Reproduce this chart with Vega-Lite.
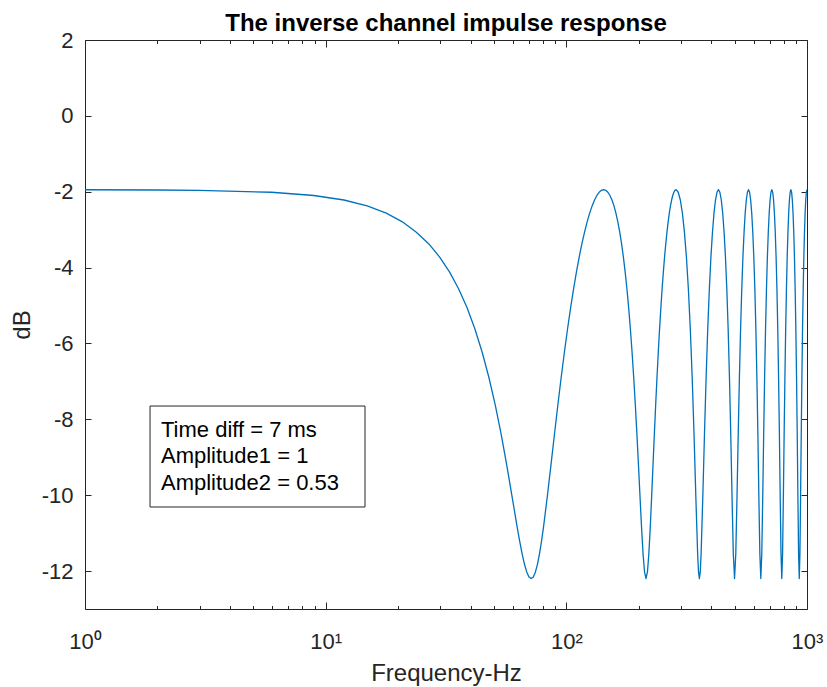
{
  "$schema": "https://vega.github.io/schema/vega-lite/v6.json",
  "width": 722,
  "height": 569,
  "autosize": {"type": "none"},
  "padding": {"left": 85, "top": 40, "right": 20, "bottom": 78},
  "background": "white",
  "config": {
    "view": {"stroke": null},
    "font": "Liberation Sans",
    "axis": {
      "grid": false,
      "domainColor": "#262626",
      "domainWidth": 1,
      "tickColor": "#262626",
      "tickWidth": 1,
      "labelColor": "#262626",
      "labelFont": "Liberation Sans",
      "labelFontSize": 22,
      "titleFont": "Liberation Sans",
      "titleFontSize": 24,
      "titleFontWeight": "normal",
      "titleColor": "#262626",
      "labelOverlap": false,
      "labelFlush": false
    }
  },
  "title": {
    "text": "The inverse channel impulse response",
    "font": "Liberation Sans",
    "fontSize": 24,
    "fontWeight": "bold",
    "color": "#000000",
    "anchor": "middle",
    "baseline": "alphabetic",
    "offset": -26
  },
  "data": {
    "values": [
      {"f": 1, "db": -1.948}, {"f": 2, "db": -1.954}, {"f": 2.976, "db": -1.963}, {"f": 5.952, "db": -2.014},
      {"f": 8.929, "db": -2.099}, {"f": 11.905, "db": -2.218}, {"f": 14.881, "db": -2.373}, {"f": 17.857, "db": -2.564},
      {"f": 20.833, "db": -2.793}, {"f": 23.81, "db": -3.066}, {"f": 26.786, "db": -3.37}, {"f": 29.762, "db": -3.722},
      {"f": 32.738, "db": -4.119}, {"f": 35.714, "db": -4.565}, {"f": 38.69, "db": -5.061}, {"f": 41.667, "db": -5.612},
      {"f": 44.643, "db": -6.219}, {"f": 47.619, "db": -6.884}, {"f": 50.595, "db": -7.608}, {"f": 53.571, "db": -8.386},
      {"f": 56.548, "db": -9.206}, {"f": 59.524, "db": -10.042}, {"f": 62.5, "db": -10.846}, {"f": 63.988, "db": -11.213},
      {"f": 65.476, "db": -11.54}, {"f": 66.964, "db": -11.815}, {"f": 68.452, "db": -12.023}, {"f": 69.94, "db": -12.154},
      {"f": 71.429, "db": -12.198}, {"f": 72.917, "db": -12.154}, {"f": 74.405, "db": -12.023}, {"f": 75.893, "db": -11.815},
      {"f": 77.381, "db": -11.54}, {"f": 78.869, "db": -11.213}, {"f": 80.357, "db": -10.846}, {"f": 83.333, "db": -10.042},
      {"f": 86.31, "db": -9.206}, {"f": 89.286, "db": -8.386},
      {"f": 92.262, "db": -7.608}, {"f": 95.238, "db": -6.884}, {"f": 98.214, "db": -6.219}, {"f": 101.19, "db": -5.612},
      {"f": 104.167, "db": -5.061}, {"f": 107.143, "db": -4.565}, {"f": 110.119, "db": -4.119}, {"f": 113.095, "db": -3.722},
      {"f": 116.071, "db": -3.37}, {"f": 119.048, "db": -3.066}, {"f": 122.024, "db": -2.793}, {"f": 125, "db": -2.564},
      {"f": 127.976, "db": -2.373}, {"f": 130.952, "db": -2.218}, {"f": 133.929, "db": -2.099}, {"f": 136.905, "db": -2.014},
      {"f": 139.881, "db": -1.963}, {"f": 142.857, "db": -1.946},
      {"f": 145.833, "db": -1.963}, {"f": 148.81, "db": -2.014}, {"f": 151.786, "db": -2.099}, {"f": 154.762, "db": -2.218},
      {"f": 157.738, "db": -2.373}, {"f": 160.714, "db": -2.564}, {"f": 163.69, "db": -2.793}, {"f": 166.667, "db": -3.066},
      {"f": 169.643, "db": -3.37}, {"f": 172.619, "db": -3.722}, {"f": 175.595, "db": -4.119}, {"f": 178.571, "db": -4.565},
      {"f": 181.548, "db": -5.061}, {"f": 184.524, "db": -5.612}, {"f": 187.5, "db": -6.219}, {"f": 190.476, "db": -6.884},
      {"f": 193.452, "db": -7.608}, {"f": 196.429, "db": -8.386}, {"f": 199.405, "db": -9.206}, {"f": 202.381, "db": -10.042},
      {"f": 205.357, "db": -10.846}, {"f": 208.333, "db": -11.54}, {"f": 211.31, "db": -12.023}, {"f": 214.286, "db": -12.198},
      {"f": 217.262, "db": -12.023}, {"f": 220.238, "db": -11.54}, {"f": 223.214, "db": -10.846}, {"f": 226.19, "db": -10.042},
      {"f": 229.167, "db": -9.206}, {"f": 232.143, "db": -8.386}, {"f": 235.119, "db": -7.608}, {"f": 238.095, "db": -6.884},
      {"f": 241.071, "db": -6.219}, {"f": 244.048, "db": -5.612}, {"f": 247.024, "db": -5.061}, {"f": 250, "db": -4.565},
      {"f": 252.976, "db": -4.119}, {"f": 255.952, "db": -3.722}, {"f": 258.929, "db": -3.37}, {"f": 261.905, "db": -3.066},
      {"f": 264.881, "db": -2.793}, {"f": 267.857, "db": -2.564}, {"f": 270.833, "db": -2.373}, {"f": 273.81, "db": -2.218},
      {"f": 276.786, "db": -2.099}, {"f": 279.762, "db": -2.014}, {"f": 282.738, "db": -1.963}, {"f": 285.714, "db": -1.946},
      {"f": 291.667, "db": -2.014}, {"f": 297.619, "db": -2.218}, {"f": 303.571, "db": -2.564}, {"f": 309.524, "db": -3.066},
      {"f": 315.476, "db": -3.722}, {"f": 321.429, "db": -4.565}, {"f": 327.381, "db": -5.612}, {"f": 333.333, "db": -6.884},
      {"f": 339.286, "db": -8.386}, {"f": 345.238, "db": -10.042}, {"f": 351.19, "db": -11.54}, {"f": 354.166, "db": -12.023},
      {"f": 357.143, "db": -12.198}, {"f": 360.119, "db": -12.023}, {"f": 363.095, "db": -11.54}, {"f": 369.048, "db": -10.042},
      {"f": 375, "db": -8.386}, {"f": 380.952, "db": -6.884}, {"f": 386.905, "db": -5.612}, {"f": 392.857, "db": -4.565},
      {"f": 398.81, "db": -3.722}, {"f": 404.762, "db": -3.066}, {"f": 410.714, "db": -2.564}, {"f": 416.667, "db": -2.218},
      {"f": 422.619, "db": -2.014}, {"f": 428.571, "db": -1.946},
      {"f": 434.524, "db": -2.014}, {"f": 440.476, "db": -2.218}, {"f": 446.429, "db": -2.564}, {"f": 452.381, "db": -3.066},
      {"f": 458.333, "db": -3.722}, {"f": 464.286, "db": -4.565}, {"f": 470.238, "db": -5.612}, {"f": 476.19, "db": -6.884},
      {"f": 482.143, "db": -8.386}, {"f": 488.095, "db": -10.042}, {"f": 494.048, "db": -11.54}, {"f": 500, "db": -12.198},
      {"f": 505.952, "db": -11.54}, {"f": 511.905, "db": -10.042}, {"f": 517.857, "db": -8.386}, {"f": 523.81, "db": -6.884},
      {"f": 529.762, "db": -5.612}, {"f": 535.714, "db": -4.565}, {"f": 541.667, "db": -3.722}, {"f": 547.619, "db": -3.066},
      {"f": 553.571, "db": -2.564}, {"f": 559.524, "db": -2.218}, {"f": 565.476, "db": -2.014}, {"f": 571.429, "db": -1.946},
      {"f": 577.381, "db": -2.014}, {"f": 583.333, "db": -2.218}, {"f": 589.286, "db": -2.564}, {"f": 595.238, "db": -3.066},
      {"f": 601.19, "db": -3.722}, {"f": 607.143, "db": -4.565}, {"f": 613.095, "db": -5.612}, {"f": 619.048, "db": -6.884},
      {"f": 625, "db": -8.386}, {"f": 630.952, "db": -10.042}, {"f": 636.905, "db": -11.54}, {"f": 642.857, "db": -12.198},
      {"f": 648.81, "db": -11.54}, {"f": 654.762, "db": -10.042}, {"f": 660.714, "db": -8.386}, {"f": 666.667, "db": -6.884},
      {"f": 672.619, "db": -5.612}, {"f": 678.571, "db": -4.565}, {"f": 684.524, "db": -3.722}, {"f": 690.476, "db": -3.066},
      {"f": 696.429, "db": -2.564}, {"f": 702.381, "db": -2.218}, {"f": 708.333, "db": -2.014}, {"f": 714.286, "db": -1.946},
      {"f": 720.238, "db": -2.014}, {"f": 726.19, "db": -2.218}, {"f": 732.143, "db": -2.564}, {"f": 738.095, "db": -3.066},
      {"f": 744.048, "db": -3.722}, {"f": 750, "db": -4.565}, {"f": 755.952, "db": -5.612}, {"f": 761.905, "db": -6.884},
      {"f": 767.857, "db": -8.386}, {"f": 773.81, "db": -10.042}, {"f": 779.762, "db": -11.54}, {"f": 785.714, "db": -12.198},
      {"f": 791.667, "db": -11.54}, {"f": 797.619, "db": -10.042}, {"f": 803.571, "db": -8.386}, {"f": 809.524, "db": -6.884},
      {"f": 815.476, "db": -5.612}, {"f": 821.429, "db": -4.565}, {"f": 827.381, "db": -3.722}, {"f": 833.333, "db": -3.066},
      {"f": 839.286, "db": -2.564}, {"f": 845.238, "db": -2.218}, {"f": 851.19, "db": -2.014}, {"f": 857.143, "db": -1.946},
      {"f": 863.095, "db": -2.014}, {"f": 869.048, "db": -2.218}, {"f": 875, "db": -2.564}, {"f": 880.952, "db": -3.066},
      {"f": 886.905, "db": -3.722}, {"f": 892.857, "db": -4.565}, {"f": 898.81, "db": -5.612}, {"f": 904.762, "db": -6.884},
      {"f": 910.714, "db": -8.386}, {"f": 916.667, "db": -10.042}, {"f": 922.619, "db": -11.54}, {"f": 928.571, "db": -12.198},
      {"f": 934.524, "db": -11.54}, {"f": 940.476, "db": -10.042}, {"f": 946.429, "db": -8.386}, {"f": 952.381, "db": -6.884},
      {"f": 958.333, "db": -5.612}, {"f": 964.286, "db": -4.565}, {"f": 970.238, "db": -3.722}, {"f": 976.19, "db": -3.066},
      {"f": 982.143, "db": -2.564}, {"f": 988.095, "db": -2.218}, {"f": 994.048, "db": -2.014}, {"f": 1000, "db": -1.946}
    ]
  },
  "layer": [
    {
      "mark": {"type": "line", "color": "#0072BD", "strokeWidth": 1.3, "strokeJoin": "round", "clip": true},
      "encoding": {
        "x": {
          "field": "f",
          "type": "quantitative",
          "scale": {"type": "log", "domain": [1, 1000], "nice": false},
          "axis": {
            "orient": "bottom",
            "values": [1, 2, 3, 4, 5, 6, 7, 8, 9, 10, 20, 30, 40, 50, 60, 70, 80, 90, 100, 200, 300, 400, 500, 600, 700, 800, 900, 1000],
            "labelExpr": "datum.value == 1 ? '10⁰' : datum.value == 10 ? '10¹' : datum.value == 100 ? '10²' : datum.value == 1000 ? '10³' : ''",
            "tickSize": {"condition": {"test": "datum.value == 1 || datum.value == 10 || datum.value == 100 || datum.value == 1000", "value": -7}, "value": -3.5},
            "labelBaseline": "alphabetic",
            "labelPadding": 46,
            "title": "Frequency-Hz",
            "titleX": 361,
            "titleY": 71,
            "titleAlign": "center",
            "titleBaseline": "alphabetic"
          }
        },
        "y": {
          "field": "db",
          "type": "quantitative",
          "scale": {"domain": [-13, 2], "nice": false, "zero": false},
          "axis": {
            "orient": "left",
            "values": [-12, -10, -8, -6, -4, -2, 0, 2],
            "labelExpr": "'' + datum.value",
            "tickSize": -6,
            "labelPadding": 18,
            "title": "dB",
            "titleX": -63,
            "titleY": 284.5,
            "titleAngle": -90,
            "titleAlign": "center",
            "titleBaseline": "middle"
          }
        }
      }
    },
    {
      "data": {"values": [{}]},
      "mark": {"type": "rect", "fill": "white", "stroke": "#262626", "strokeWidth": 1},
      "encoding": {
        "x": {
          "datum": 1.863,
          "type": "quantitative",
          "axis": {
            "orient": "top",
            "values": [1, 2, 3, 4, 5, 6, 7, 8, 9, 10, 20, 30, 40, 50, 60, 70, 80, 90, 100, 200, 300, 400, 500, 600, 700, 800, 900, 1000],
            "labels": false,
            "title": null,
            "tickSize": {"condition": {"test": "datum.value == 1 || datum.value == 10 || datum.value == 100 || datum.value == 1000", "value": -7}, "value": -3.5}
          }
        },
        "x2": {"datum": 14.57},
        "y": {
          "datum": -7.649,
          "type": "quantitative",
          "axis": {
            "orient": "right",
            "values": [-12, -10, -8, -6, -4, -2, 0, 2],
            "labels": false,
            "title": null,
            "tickSize": -6
          }
        },
        "y2": {"datum": -10.311}
      }
    },
    {
      "data": {"values": [{}]},
      "mark": {
        "type": "text",
        "text": ["Time diff = 7 ms", "Amplitude1 = 1", "Amplitude2 = 0.53"],
        "align": "left",
        "baseline": "middle",
        "font": "Liberation Sans",
        "fontSize": 22,
        "lineHeight": 26.5,
        "color": "#000000"
      },
      "encoding": {
        "x": {"datum": 2.069, "type": "quantitative", "axis": null},
        "y": {"datum": -8.281, "type": "quantitative", "axis": null}
      }
    }
  ],
  "resolve": {"axis": {"x": "independent", "y": "independent"}}
}
